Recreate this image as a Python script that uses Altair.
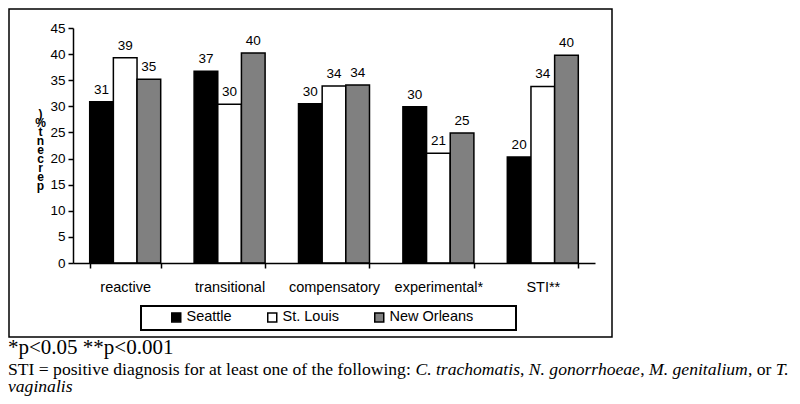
import altair as alt
import pandas as pd

categories = ["reactive", "transitional", "compensatory", "experimental*", "STI**"]
series = ["Seattle", "St. Louis", "New Orleans"]
seattle = [30.9, 36.7, 30.5, 29.9, 20.3]
st_louis = [39.3, 30.4, 33.9, 21.0, 33.8]
new_orleans = [35.2, 40.2, 34.1, 24.9, 39.8]
seattle_labels = ["31", "37", "30", "30", "20"]
st_louis_labels = ["39", "30", "34", "21", "34"]
new_orleans_labels = ["35", "40", "34", "25", "40"]
y_ticks = [0, 5, 10, 15, 20, 25, 30, 35, 40, 45]
colors = ["#000000", "#ffffff", "#808080"]
y_title_lines = [")", "%", "t", "n", "e", "c", "r", "e", "p"]

rows = []
for vals, labs, s in [(seattle, seattle_labels, "Seattle"),
                      (st_louis, st_louis_labels, "St. Louis"),
                      (new_orleans, new_orleans_labels, "New Orleans")]:
    for c, v, l in zip(categories, vals, labs):
        rows.append({"category": c, "series": s, "value": v, "label": l})
df = pd.DataFrame(rows)
one = pd.DataFrame({"k": [0]})

SANS = "Liberation Sans"
SERIF = "Liberation Serif"

x_enc = alt.X("category:N", sort=categories,
              scale=alt.Scale(paddingInner=0.32, paddingOuter=0.16),
              axis=alt.Axis(title=None, labelAngle=0, tickBand="extent", zindex=1,
                            domainColor="black", domainWidth=1.5,
                            tickColor="black", tickWidth=1.5, tickSize=5,
                            labelFont=SANS, labelFontSize=14.5, labelColor="black",
                            labelPadding=12))
xo_enc = alt.XOffset("series:N", sort=series,
                     scale=alt.Scale(paddingInner=0, paddingOuter=0))
y_enc = alt.Y("value:Q", scale=alt.Scale(domain=[0, 45], nice=False),
              axis=alt.Axis(values=y_ticks, tickCount=10, grid=False,
                            title=y_title_lines, zindex=1,
                            labelOverlap=False,
                            titleAngle=0, titleX=-33, titleY=80,
                            titleAlign="center", titleBaseline="top",
                            titleFont=SANS, titleFontSize=12, titleFontWeight="bold",
                            titleLineHeight=9, titleColor="black",
                            domainColor="black", domainWidth=1.5,
                            tickColor="black", tickWidth=1.5, tickSize=5,
                            labelFont=SANS, labelFontSize=13.5, labelColor="black",
                            labelPadding=3))


def box(x, x2, y, y2, sw, opacity):
    return alt.Chart(one).mark_rect(fill="white", fillOpacity=opacity,
                                    stroke="black", strokeWidth=sw).encode(
        x=alt.value(x), x2=alt.value(x2), y=alt.value(y), y2=alt.value(y2))


def note(text, x, y, size, italic=False):
    return alt.Chart(pd.DataFrame({"t": [text]})).mark_text(
        align="left", baseline="alphabetic", font=SERIF, fontSize=size,
        fontStyle="italic" if italic else "normal", color="black").encode(
        x=alt.value(x), y=alt.value(y), text="t:N")


frame = box(-64, 539, -19, 309, 1.5, 0)
legend_box = box(68, 443, 278, 302, 2, 1)

bars = alt.Chart(df).mark_bar(stroke="black", strokeWidth=1.5).encode(
    x=x_enc, xOffset=xo_enc, y=y_enc,
    color=alt.Color("series:N", sort=series,
                    scale=alt.Scale(domain=series, range=colors),
                    legend=alt.Legend(title=None, orient="none", direction="horizontal",
                                      legendX=96, legendY=282, padding=0,
                                      symbolType="square", symbolSize=81,
                                      symbolStrokeColor="black", symbolStrokeWidth=1.5,
                                      labelFont=SANS, labelFontSize=14.5,
                                      labelColor="black", labelOffset=3,
                                      columnPadding=32)))

labels = alt.Chart(df).mark_text(baseline="alphabetic", dy=-8, font=SANS,
                                 fontSize=13.5, color="black").encode(
    x=x_enc, xOffset=xo_enc, y=y_enc, text="label:N")

FS = 17.6
YL = 347
stars = note("*p<0.05 **p<0.001", -65, 326, 21)
sti = [
    note("STI = positive diagnosis for at least one of the following: ", -65, YL, FS),
    note("C. trachomatis", 342.4, YL, FS, True),
    note(",", 447.0, YL, FS),
    note("N. gonorrhoeae", 455.8, YL, FS, True),
    note(",", 567.3, YL, FS),
    note("M. genitalium", 576.1, YL, FS, True),
    note(", or", 674.9, YL, FS),
    note("T.", 702.8, YL, FS, True),
]
vag = note("vaginalis", -65, 364, FS, True)

chart = alt.layer(frame, legend_box, bars, labels, stars, *sti, vag).properties(
    width=522, height=235,
    autosize=alt.AutoSizeParams(type="none"),
    padding={"left": 65, "top": 20, "right": 197, "bottom": 133},
    background="white",
).configure_view(stroke=None)

chart.save("out.html", embed_options={"renderer": "svg", "actions": False})
